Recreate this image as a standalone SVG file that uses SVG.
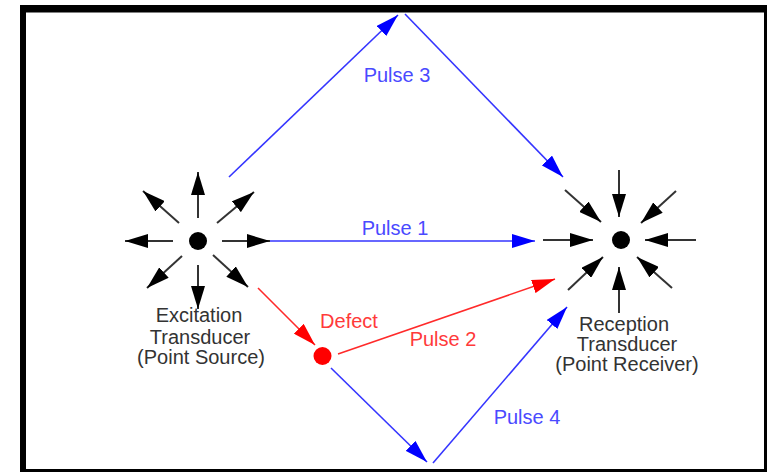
<svg xmlns="http://www.w3.org/2000/svg" width="767" height="472" viewBox="0 0 767 472">
<defs>
<style>
.frame{fill:#000}
.blk{stroke:#333;stroke-width:2;fill:none;marker-end:url(#hk)}
.blu{stroke:#3535ff;stroke-width:1.6;fill:none}
.red{stroke:#ff2a2a;stroke-width:1.6;fill:none}
.t{font-family:"Liberation Sans",Arial,sans-serif;font-size:20px;text-anchor:middle}
.tg{fill:#333}
.tb{fill:#4a4aff}
.tr{fill:#ff3a3a}
</style>
<marker id="hk" markerUnits="userSpaceOnUse" markerWidth="23" markerHeight="14" refX="23" refY="7" orient="auto"><path d="M0,0 L23,7 L0,14 Z" fill="#000"/></marker>
<marker id="hb" markerUnits="userSpaceOnUse" markerWidth="23" markerHeight="14" refX="23" refY="7" orient="auto"><path d="M0,0 L23,7 L0,14 Z" fill="#0000ff"/></marker>
<marker id="hr" markerUnits="userSpaceOnUse" markerWidth="23" markerHeight="14" refX="23" refY="7" orient="auto"><path d="M0,0 L23,7 L0,14 Z" fill="#ff0000"/></marker>
</defs>
<rect width="767" height="472" fill="#fff"/>
<g id="frame">
<rect class="frame" x="20" y="5" width="747" height="7.5"/>
<rect class="frame" x="20" y="5" width="6" height="467"/>
<rect class="frame" x="764" y="5" width="3" height="467"/>
<rect class="frame" x="20" y="469" width="747" height="3"/>
</g>
<g id="connectors">
<path class="blu" d="M270,241 L535,241" marker-end="url(#hb)"/>
<path class="blu" d="M229,177 L398,15" marker-end="url(#hb)"/>
<path class="blu" d="M405,14 L563,177" marker-end="url(#hb)"/>
<path class="blu" d="M331,368 L427,462" marker-end="url(#hb)"/>
<path class="blu" d="M433,463 L567,307" marker-end="url(#hb)"/>
<path class="red" d="M258,288 L315,345" marker-end="url(#hr)"/>
<path class="red" d="M338,354 L555,279" marker-end="url(#hr)"/>
</g>
<g id="source">
<circle cx="198" cy="241" r="9" fill="#000"/>
<path class="blk" d="M198,218 L198,172"/>
<path class="blk" d="M222,241 L270,241"/>
<path class="blk" d="M173,241 L125,241"/>
<path class="blk" d="M198,265 L198,309"/>
<path class="blk" d="M179,223 L143,191"/>
<path class="blk" d="M217,223 L254,192"/>
<path class="blk" d="M182,256 L147,288"/>
<path class="blk" d="M213,255 L248,287"/>
<text class="t tg" x="199" y="322">Excitation</text>
<text class="t tg" x="200" y="344">Transducer</text>
<text class="t tg" x="201" y="364">(Point Source)</text>
</g>
<g id="receiver">
<circle cx="621" cy="240" r="9" fill="#000"/>
<path class="blk" d="M619,170 L619,217"/>
<path class="blk" d="M543,240 L593,240"/>
<path class="blk" d="M696,240 L645,240"/>
<path class="blk" d="M619,313 L619,267"/>
<path class="blk" d="M565,190 L601,222"/>
<path class="blk" d="M676,191 L641,223"/>
<path class="blk" d="M568,290 L603,257"/>
<path class="blk" d="M672,288 L637,257"/>
<text class="t tg" x="624" y="331">Reception</text>
<text class="t tg" x="627" y="351">Transducer</text>
<text class="t tg" x="627" y="371">(Point Receiver)</text>
</g>
<g id="defect">
<circle cx="322.5" cy="356" r="9" fill="#ff0000"/>
<text class="t tr" x="349" y="328">Defect</text>
</g>
<g id="labels">
<text class="t tb" x="397" y="82">Pulse 3</text>
<text class="t tb" x="395" y="235">Pulse 1</text>
<text class="t tr" x="443" y="346">Pulse 2</text>
<text class="t tb" x="527" y="424">Pulse 4</text>
</g>
</svg>
